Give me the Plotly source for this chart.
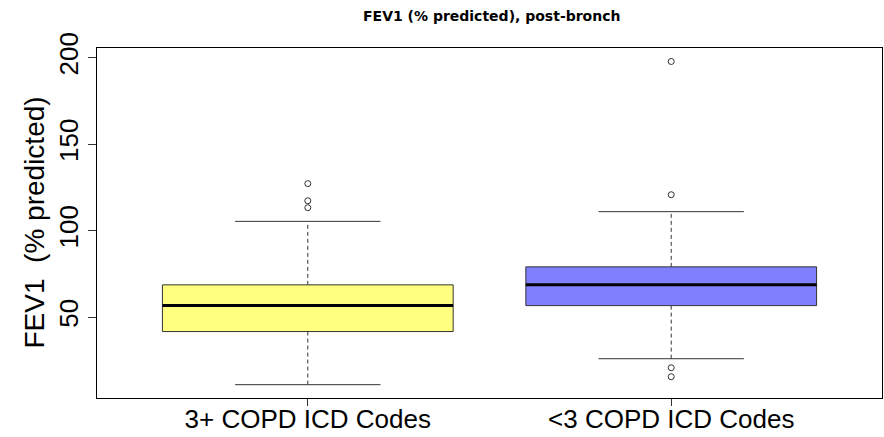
import plotly.graph_objects as go

# ---- data ----
groups = ["3+ COPD ICD Codes", "<3 COPD ICD Codes"]
positions = [1, 2]
q1 = [41.7, 56.7]
median = [56.7, 68.7]
q3 = [68.7, 79.1]
lower_whisker = [11.0, 26.0]
upper_whisker = [105.4, 111.0]
outliers = [
    [127.2, 117.3, 113.3],
    [197.8, 120.8, 20.8, 15.6],
]
fill_colors = ["#FFFF80", "#8080FF"]
y_ticks = [50, 100, 150, 200]

BOX_W = 0.8
CAP_W = 0.4
LINE_C = "#333333"
FONT = "Liberation Sans, Arial, sans-serif"

fig = go.Figure()

for i, pos in enumerate(positions):
    xl, xr = pos - BOX_W / 2, pos + BOX_W / 2
    cl, cr = pos - CAP_W / 2, pos + CAP_W / 2
    # whiskers (dashed)
    fig.add_trace(go.Scatter(
        x=[pos, pos, None, pos, pos],
        y=[q3[i], upper_whisker[i], None, q1[i], lower_whisker[i]],
        mode="lines", line=dict(color=LINE_C, width=1, dash="4px,3px"),
        hoverinfo="skip", showlegend=False))
    # caps
    fig.add_trace(go.Scatter(
        x=[cl, cr, None, cl, cr],
        y=[upper_whisker[i], upper_whisker[i], None, lower_whisker[i], lower_whisker[i]],
        mode="lines", line=dict(color=LINE_C, width=1),
        hoverinfo="skip", showlegend=False))
    # box
    fig.add_trace(go.Scatter(
        x=[xl, xr, xr, xl, xl],
        y=[q1[i], q1[i], q3[i], q3[i], q1[i]],
        mode="lines", fill="toself", fillcolor=fill_colors[i],
        line=dict(color=LINE_C, width=1),
        hoverinfo="skip", showlegend=False))
    # median
    fig.add_trace(go.Scatter(
        x=[xl, xr], y=[median[i], median[i]],
        mode="lines", line=dict(color="black", width=3),
        hoverinfo="skip", showlegend=False))
    # outliers
    fig.add_trace(go.Scatter(
        x=[pos] * len(outliers[i]), y=outliers[i],
        mode="markers",
        marker=dict(symbol="circle-open", size=6, color=LINE_C, line=dict(width=1)),
        hoverinfo="skip", showlegend=False))

fig.update_layout(
    width=884, height=437,
    margin=dict(l=97, r=2, t=48, b=39),
    paper_bgcolor="white", plot_bgcolor="white",
    font=dict(family=FONT, color="black"),
    showlegend=False,
    xaxis=dict(
        range=[0.42, 2.58], tickvals=positions, ticktext=groups,
        ticks="outside", ticklen=7, tickcolor=LINE_C,
        tickfont=dict(size=26, family=FONT, color="black"),
        ticklabelstandoff=-9,
        showgrid=False, zeroline=False, automargin=False,
        showline=True, mirror=True, linecolor="black", linewidth=1,
    ),
    yaxis=dict(
        range=[3.3, 205.6], tickvals=y_ticks,
        ticks="outside", ticklen=8, tickcolor=LINE_C, tickangle=-90,
        tickfont=dict(size=26, family=FONT, color="black"),
        showgrid=False, zeroline=False, automargin=False,
        showline=True, mirror=True, linecolor="black", linewidth=1,
    ),
    annotations=[
        dict(text="<b>FEV1 (% predicted), post-bronch</b>",
             xref="paper", yref="paper", x=0.502, y=1.0914,
             xanchor="center", yanchor="middle", showarrow=False,
             font=dict(size=14, family="DejaVu Sans, sans-serif", color="black")),
        dict(text="FEV1  (% predicted)",
             xref="paper", yref="paper", x=(33.5 - 97) / 785, y=0.5,
             xanchor="center", yanchor="middle", showarrow=False, textangle=-90,
             font=dict(size=28, family=FONT, color="black")),
    ],
)

fig.write_html("out.html",
               config={"displayModeBar": False},
               post_script="document.body.style.margin='0';document.body.style.overflow='hidden';")
